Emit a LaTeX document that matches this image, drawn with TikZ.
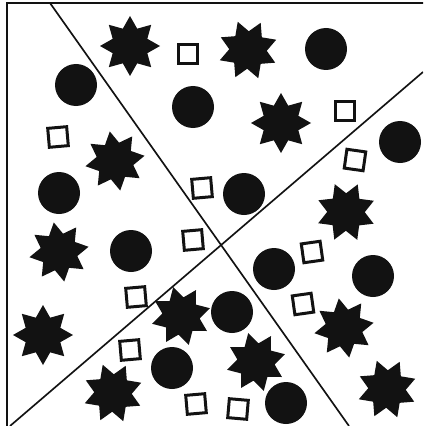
\documentclass[tikz,border=0pt]{standalone}
\usetikzlibrary{shapes.geometric}
\definecolor{ink}{gray}{0.07}
\begin{document}
\begin{tikzpicture}[x=0.03cm,y=-0.03cm]
            \tikzset{st/.style={star,star points=8,star point ratio=1.6,minimum size=1.8cm,inner sep=0,fill=ink},
                ci/.style={circle,minimum size=1.26cm,inner sep=0,fill=ink},
                sq/.style={rectangle,minimum size=0.57cm,inner sep=0,draw=ink,line width=0.09cm},
                ln/.style={line width=0.05cm,draw=ink}}
            \useasboundingbox(0,0)rectangle(423,426);
            \clip(0,0)rectangle(423,426);
            \draw[ln](7,3)rectangle(440,440);
            \path(50,3)coordinate(A)(349,426)coordinate(B)(10,426)coordinate(C)(423,72)coordinate(D);
            \draw[ln](A)--(B)(C)--(D);
            %    %%stars
            \foreach \n/\x/\y/\r in {
                s1/130/46/0,s2/248/50/20,s3/281/123/0,s4/115/161/10,
                s5/346/212/22,s6/59/252/10,s7/181/316/15,s8/43/335/0,
                s9/113/393/20,s10/256/362/15,s11/344/328/10,s12/387/389/20}
            \node[st,rotate=\r](\n)at(\x,\y){};
            %    %%circles
            \foreach \n/\x/\y in {
                c1/76/85,c2/193/107,c3/326/49,c4/400/142,
                c5/59/193,c6/244/194,c7/131/251,c8/274/269,
                c9/373/276,c10/232/312,c11/172/368,c12/286/403}
            \node[ci](\n)at(\x,\y){};
            %    %%squares
            \foreach \n/\x/\y/\r in {
                q1/188/54/0,q2/58/137/5,q3/345/111/0,q4/355/160/-8,
                q5/202/188/5,q6/193/240/5,q7/312/252/8,q8/136/297/5,
                q9/303/304/8,q10/130/350/5,q11/196/404/5,q12/238/409/-5}
            \node[sq,rotate=\r](\n)at(\x,\y){};
        \end{tikzpicture}
\end{document}
